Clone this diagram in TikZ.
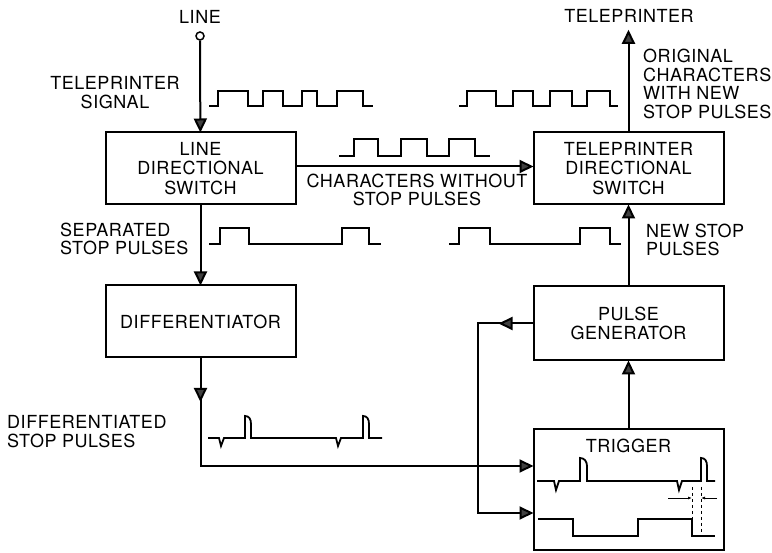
\documentclass[tikz,border=0pt]{standalone}
\usepackage{fontspec}
\setmainfont{TeX Gyre Heros}[LetterSpace=3]
\usetikzlibrary{arrows.meta, positioning}

\tikzset{
	block/.style={draw, line width=2pt, outer sep=0pt, minimum width=190pt, minimum height=72pt,
		align=center, inner sep=0pt, font=\fontsize{18pt}{19.5pt}\selectfont},
	lbl/.style={align=left, inner sep=0pt},
	flow/.style={->, line width=2pt},
	sig/.style={line width=1.8pt, line join=miter},
	dim/.style={line width=0.8pt, -{Latex[length=4pt,width=3pt]}},
}

\begin{document}
\begin{tikzpicture}[x=1pt, y=-1pt, inner sep=0pt,
	font=\fontsize{18pt}{18.5pt}\selectfont,
	>={Triangle[length=14pt,width=13pt,fill=black!75]}]

	\useasboundingbox (0,0) rectangle (772,553);

	% blocks
	\node[block] (lds) at (200.5,168.5) {LINE\\DIRECTIONAL\\SWITCH};
	\node[block, right=238pt of lds] (tds) {TELEPRINTER\\DIRECTIONAL\\SWITCH};
	\node[block, below=81pt of lds] (diff) {DIFFERENTIATOR};
	\node[block, below=82pt of tds, minimum height=74pt] (pg) {PULSE\\GENERATOR};
	\node[block, minimum height=120pt, below=69pt of pg] (trig) {};
	\node[below=9pt of trig.north] (trigtxt) {TRIGGER};

	% terminals and labels
	\node (linetxt) at (200,16.5) {LINE};
	\node[draw, circle, line width=1.5pt, minimum size=8pt] (line) at (200,36) {};
	\node (tptxt) at (629,16) {TELEPRINTER};
	\node[align=center] (tpsig) at (115,92.5) {TELEPRINTER\\SIGNAL};
	\node[lbl, anchor=west] (orig) at (643,84) {ORIGINAL\\CHARACTERS\\WITH NEW\\STOP PULSES};
	\node[align=center] (nostop) at (417,190) {CHARACTERS WITHOUT\\STOP PULSES};
	\node[lbl, anchor=west] (sep) at (60,239) {SEPARATED\\STOP PULSES};
	\node[lbl, anchor=west] (newstop) at (646,240) {NEW STOP\\PULSES};
	\node[lbl, anchor=west] (difflbl) at (7,431.5) {DIFFERENTIATED\\STOP PULSES};

	\coordinate (trigin1) at ([yshift=23.5pt]trig.west);
	\coordinate (trigin2) at ([yshift=-23.5pt]trig.west);
	\coordinate (fb) at (478,0);

	% connectors
	\draw[flow] (line) -- (lds);
	\draw[flow] ([yshift=2pt]lds.east) -- ([yshift=2pt]tds.west);
	\draw[flow] (lds) -- (diff);
	\draw[flow] (pg) -- (tds);
	\draw[flow] (trig) -- (pg);
	\draw[flow, shorten >=7pt] (tds) -- (tds |- tptxt.south);
	\draw[flow] (diff.south) |- (trigin1);
	\draw[flow] (diff.south) -- ++(0,44.5);
	\draw[flow] (pg.west) -| (fb |- trigin2) -- (trigin2);
	\draw[flow] (pg.west) -- ++(-35,0);

	% waveforms
	\draw[sig] (209,106) -- (218,106) -- (218,91) -- (248,91) -- (248,106) -- (263,106)
		-- (263,91) -- (283,91) -- (283,106) -- (302,106) -- (302,91) -- (317,91)
		-- (317,106) -- (337,106) -- (337,91) -- (363,91) -- (363,106) -- (373,106);
	\draw[sig] (459,106) -- (467,106) -- (467,91) -- (496,91) -- (496,106) -- (513,106)
		-- (513,91) -- (533,91) -- (533,106) -- (550,106) -- (550,91) -- (572,91)
		-- (572,106) -- (587,106) -- (587,91) -- (610,91) -- (610,106) -- (618,106);
	\draw[sig] (339,156) -- (354,156) -- (354,139) -- (378,139) -- (378,156) -- (401,156)
		-- (401,139) -- (427,139) -- (427,156) -- (449,156) -- (449,139) -- (475,139)
		-- (475,156) -- (490,156);
	\draw[sig] (209,244) -- (220,244) -- (220,228) -- (249,228) -- (249,244) -- (342,244)
		-- (342,228) -- (369,228) -- (369,244) -- (381,244);
	\draw[sig] (449,244) -- (459,244) -- (459,228) -- (490,228) -- (490,244) -- (580,244)
		-- (580,228) -- (610,228) -- (610,244) -- (621,244);
	\draw[sig] (208,438) -- (219,438) -- (221,446) -- (224,438) -- (245,438) -- (245,416)
		.. controls (249,416) and (251,419) .. (251,424) -- (251,438) -- (336,438)
		-- (338,446) -- (341,438) -- (363,438) -- (363,416)
		.. controls (367,416) and (369,419) .. (369,424) -- (369,438) -- (382,438);

	% waveforms in the trigger
	\draw[sig] (537,481) -- (554,481) -- (556,490) -- (559,481) -- (580,481) -- (580,458)
		.. controls (584,458) and (587,461) .. (587,466) -- (587,481) -- (677,481)
		-- (679,490) -- (682,481) -- (701,481) -- (701,458)
		.. controls (705,458) and (707,461) .. (707,466) -- (707,481) -- (715,481);
	\draw[sig] (538,519) -- (573,519) -- (573,536) -- (638,536) -- (638,519) -- (692,519)
		-- (692,536) -- (715,536);
	\draw[line width=0.8pt, dashed] (692,487) -- (692,537);
	\draw[line width=0.8pt, dashed] (701,487) -- (701,532);
	\draw[dim] (668,498) -- (692,498);
	\draw[dim] (717,498) -- (701,498);

\end{tikzpicture}
\end{document}
